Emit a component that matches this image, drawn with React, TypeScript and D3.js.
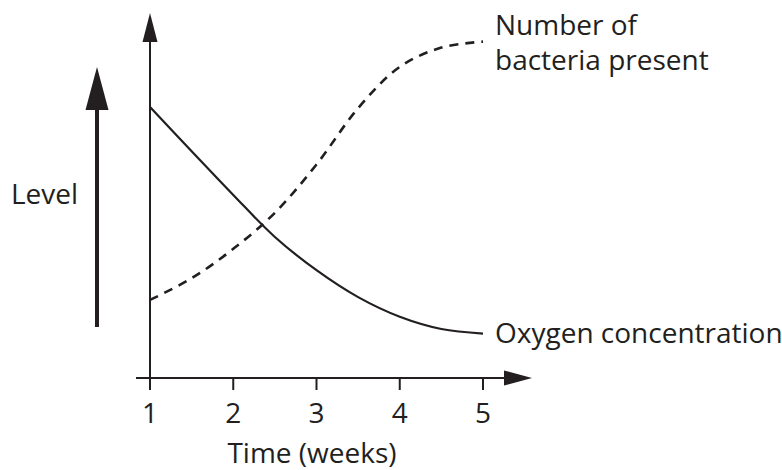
import React from "react";
import * as d3 from "d3";

const weeks = [1, 1.5, 2, 2.5, 3, 3.5, 4, 4.5, 5];
const oxygen = [7.74, 6.48, 5.23, 4.03, 3.08, 2.31, 1.75, 1.4, 1.27];
const bacteria = [2.23, 2.85, 3.69, 4.72, 6.1, 7.71, 8.89, 9.44, 9.61];
const tickValues = [1, 2, 3, 4, 5];

const INK = "#231f20";
const FONT = "'Open Sans', sans-serif";
const FS = 28;

export default function App() {
  const x = d3.scaleLinear().domain([1, 5]).range([150, 483]);
  const y = d3.scaleLinear().domain([0, 10]).range([378, 28]);
  const line = d3
    .line<number>()
    .x((_, i) => x(weeks[i]))
    .y((d) => y(d))
    .curve(d3.curveCatmullRom.alpha(0.5));

  const ax = x(1);
  const ay = y(0);

  return (
    <svg
      width={782}
      height={470}
      style={{ position: "absolute", left: 0, top: 0, background: "#fff" }}
    >
      {/* Level arrow */}
      <line x1={97} x2={97} y1={327} y2={106} stroke={INK} strokeWidth={4} />
      <path d={`M97,67 L108.5,110 L85.5,110 Z`} fill={INK} />
      <text x={11} y={204} fontFamily={FONT} fontSize={FS} fill={INK}>
        Level
      </text>

      {/* y axis */}
      <line x1={ax} x2={ax} y1={390} y2={38} stroke={INK} strokeWidth={2} />
      <path d={`M${ax},13 L${ax + 7.5},42 L${ax - 7.5},42 Z`} fill={INK} />

      {/* x axis */}
      <line x1={136} x2={508} y1={ay} y2={ay} stroke={INK} strokeWidth={2} />
      <path d={`M532,${ay} L504,${ay - 7.5} L504,${ay + 7.5} Z`} fill={INK} />
      {tickValues.map((t) => (
        <g key={t}>
          {t !== 1 && (
            <line x1={x(t)} x2={x(t)} y1={ay} y2={ay + 12} stroke={INK} strokeWidth={2} />
          )}
          <text
            x={x(t)}
            y={423}
            textAnchor="middle"
            fontFamily={FONT}
            fontSize={FS}
            fill={INK}
          >
            {t}
          </text>
        </g>
      ))}
      <text x={312} y={463} textAnchor="middle" fontFamily={FONT} fontSize={FS} fill={INK}>
        Time (weeks)
      </text>

      {/* curves */}
      <path d={line(oxygen) || ""} fill="none" stroke={INK} strokeWidth={2.2} />
      <path
        d={line(bacteria) || ""}
        fill="none"
        stroke={INK}
        strokeWidth={2.6}
        strokeDasharray="9 7"
      />

      {/* labels */}
      <text x={495} y={343} fontFamily={FONT} fontSize={FS} fill={INK}>
        Oxygen concentration
      </text>
      <text x={495} y={35} fontFamily={FONT} fontSize={FS} fill={INK}>
        Number of
      </text>
      <text x={495} y={70} fontFamily={FONT} fontSize={FS} fill={INK}>
        bacteria present
      </text>
    </svg>
  );
}
